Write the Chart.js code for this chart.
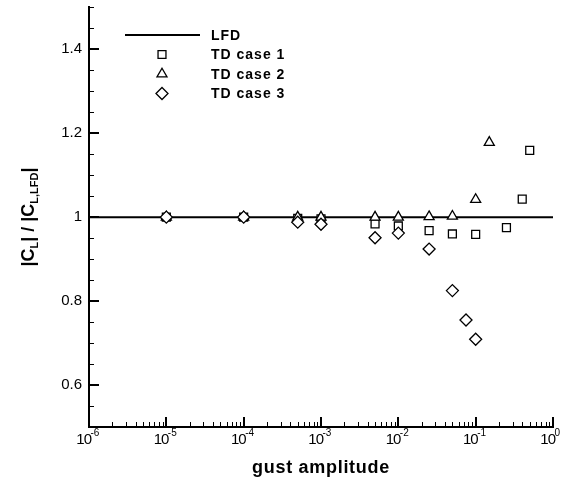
<!DOCTYPE html>
<html>
<head>
<meta charset="utf-8">
<script src="https://cdn.jsdelivr.net/npm/chart.js@4/dist/chart.umd.min.js"></script>
<style>
  html, body { margin: 0; padding: 0; background: #fff; }
  #wrap { width: 563px; height: 482px; }
</style>
</head>
<body>
<div id="wrap"><canvas id="chart" width="563" height="482"></canvas></div>
<script>
// donnees
const lfdX = [1e-6, 1];
const lfdY = [1, 1];

const case1X = [1e-5, 1e-4, 5e-4, 1e-3, 5e-3, 1e-2, 2.5e-2, 5e-2, 1e-1, 2.5e-1, 4e-1, 5e-1];
const case1Y = [1.0, 1.0, 0.997, 0.996, 0.984, 0.979, 0.968, 0.960, 0.959, 0.975, 1.043, 1.159];

const case2X = [1e-5, 1e-4, 5e-4, 1e-3, 5e-3, 1e-2, 2.5e-2, 5e-2, 1e-1, 1.5e-1];
const case2Y = [1.0, 1.0, 1.0, 1.0, 1.0, 1.0, 1.001, 1.002, 1.042, 1.178];

const case3X = [1e-5, 1e-4, 5e-4, 1e-3, 5e-3, 1e-2, 2.5e-2, 5e-2, 7.5e-2, 1e-1];
const case3Y = [1.0, 1.0, 0.988, 0.983, 0.951, 0.962, 0.924, 0.825, 0.755, 0.709];

const yLabelTicks = [0.6, 0.8, 1.0, 1.2, 1.4];
const xDecades = [-6, -5, -4, -3, -2, -1, 0];

const FONT = '"Liberation Sans", Arial, Helvetica, sans-serif';

function pts(xs, ys) {
    return xs.map((x, i) => ({ x: x, y: ys[i] }));
}

function markerDataset(label, xs, ys, style, radius, order) {
    return {
        label: label,
        data: pts(xs, ys),
        showLine: false,
        pointStyle: style,
        pointRadius: radius,
        pointHoverRadius: radius,
        pointBorderWidth: 1.3,
        pointBorderColor: '#000',
        pointBackgroundColor: '#fff',
        order: order
    };
}

// petits traits vers l'interieur, etiquettes en puissance de 10, titres et legende
const decorPlugin = {
    id: 'decor',
    afterDraw(chart) {
        const ctx = chart.ctx;
        const xs = chart.scales.x;
        const ys = chart.scales.y;
        const area = chart.chartArea;
        ctx.save();
        ctx.strokeStyle = '#000';

        // traits axe y
        for (let k = 10; k <= 30; k++) {
            const v = k * 0.05;
            const major = (k % 4 === 0);
            const py = major ? Math.round(ys.getPixelForValue(v)) : Math.round(ys.getPixelForValue(v)) + 0.5;
            ctx.lineWidth = major ? 2 : 1;
            ctx.beginPath();
            ctx.moveTo(area.left, py);
            ctx.lineTo(area.left + (major ? 10 : 5), py);
            ctx.stroke();
        }

        // traits axe x
        xDecades.forEach(d => {
            const base = Math.pow(10, d);
            const px = Math.round(xs.getPixelForValue(base));
            ctx.lineWidth = 2;
            ctx.beginPath();
            ctx.moveTo(px, area.bottom);
            ctx.lineTo(px, area.bottom - 10);
            ctx.stroke();
            if (d < 0) {
                for (let m = 2; m <= 9; m++) {
                    const qx = Math.round(xs.getPixelForValue(m * base)) + 0.5;
                    ctx.lineWidth = 1;
                    ctx.beginPath();
                    ctx.moveTo(qx, area.bottom);
                    ctx.lineTo(qx, area.bottom - 5);
                    ctx.stroke();
                }
            }
        });

        // etiquettes x : 10 avec exposant
        ctx.fillStyle = '#000';
        ctx.textBaseline = 'alphabetic';
        xDecades.forEach(d => {
            const px = xs.getPixelForValue(Math.pow(10, d));
            ctx.letterSpacing = '-1px';
            ctx.font = '15px ' + FONT;
            ctx.textAlign = 'right';
            ctx.fillText('10', px + 2, area.bottom + 17);
            ctx.letterSpacing = '0px';
            ctx.font = '10px ' + FONT;
            ctx.textAlign = 'left';
            ctx.fillText(String(d), px + 1.5, area.bottom + 9);
        });

        // titre x
        ctx.letterSpacing = '0.7px';
        ctx.font = 'bold 18px ' + FONT;
        ctx.textAlign = 'center';
        ctx.fillText('gust amplitude', (area.left + area.right) / 2, 473);
        ctx.letterSpacing = '0px';

        // titre y, tourne
        ctx.save();
        ctx.translate(34, 217);
        ctx.rotate(-Math.PI / 2);
        const parts = [
            { t: '|C', sub: false },
            { t: 'L', sub: true },
            { t: '| / |C', sub: false },
            { t: 'L,LFD', sub: true },
            { t: '|', sub: false }
        ];
        let total = 0;
        parts.forEach(p => {
            ctx.font = (p.sub ? 'bold 11px ' : 'bold 18px ') + FONT;
            p.w = ctx.measureText(p.t).width;
            total += p.w;
        });
        let cx = -total / 2;
        ctx.textAlign = 'left';
        parts.forEach(p => {
            ctx.font = (p.sub ? 'bold 11px ' : 'bold 18px ') + FONT;
            ctx.fillText(p.t, cx, p.sub ? 4 : 0);
            cx += p.w;
        });
        ctx.restore();

        // legende
        const rowY = [35, 54.5, 74, 93.5];
        const dsets = chart.data.datasets;
        ctx.textAlign = 'left';
        ctx.textBaseline = 'middle';
        dsets.forEach((ds, i) => {
            const y = rowY[i];
            if (ds.showLine !== false) {
                ctx.lineWidth = ds.borderWidth;
                ctx.strokeStyle = ds.borderColor;
                ctx.beginPath();
                ctx.moveTo(125, y);
                ctx.lineTo(200, y);
                ctx.stroke();
            } else {
                ctx.lineWidth = ds.pointBorderWidth;
                ctx.strokeStyle = ds.pointBorderColor;
                ctx.fillStyle = ds.pointBackgroundColor;
                Chart.helpers.drawPoint(ctx, {
                    pointStyle: ds.pointStyle,
                    rotation: 0,
                    radius: ds.pointRadius,
                    borderWidth: ds.pointBorderWidth
                }, 162, y);
            }
            ctx.fillStyle = '#000';
            ctx.letterSpacing = '1px';
            ctx.font = 'bold 14px ' + FONT;
            ctx.fillText(ds.label, 211, y + 1);
            ctx.letterSpacing = '0px';
        });
        ctx.restore();
    }
};

const chart = new Chart(document.getElementById('chart'), {
    type: 'scatter',
    data: {
        datasets: [
            {
                label: 'LFD',
                data: pts(lfdX, lfdY),
                showLine: true,
                borderColor: '#000',
                borderWidth: 2,
                pointRadius: 0,
                pointHoverRadius: 0,
                order: 4
            },
            markerDataset('TD case 1', case1X, case1Y, 'rect', 5.6, 3),
            markerDataset('TD case 2', case2X, case2Y, 'triangle', 5.8, 2),
            markerDataset('TD case 3', case3X, case3Y, 'rectRot', 6, 1)
        ]
    },
    options: {
        responsive: false,
        animation: false,
        events: [],
        layout: { padding: { top: 3, right: 10, left: 0, bottom: 0 } },
        plugins: {
            legend: { display: false },
            tooltip: { enabled: false }
        },
        scales: {
            x: {
                type: 'logarithmic',
                min: 1e-6,
                max: 1,
                grid: { display: false, drawTicks: false },
                border: { display: true, color: '#000', width: 2 },
                ticks: { display: false },
                afterFit(scale) {
                    scale.height = 55;
                    scale.paddingLeft = 0;
                    scale.paddingRight = 0;
                }
            },
            y: {
                type: 'linear',
                min: 0.5,
                max: 1.5,
                grid: { display: false, drawTicks: false },
                border: { display: true, color: '#000', width: 2 },
                afterBuildTicks(scale) {
                    scale.ticks = yLabelTicks.map(v => ({ value: v }));
                },
                ticks: {
                    padding: 7,
                    color: '#000',
                    font: { family: FONT, size: 15 },
                    callback: v => String(Math.round(v * 10) / 10)
                },
                afterFit(scale) {
                    scale.width = 89;
                    scale.paddingTop = 0;
                    scale.paddingBottom = 0;
                }
            }
        }
    },
    plugins: [decorPlugin]
});
</script>
</body>
</html>
